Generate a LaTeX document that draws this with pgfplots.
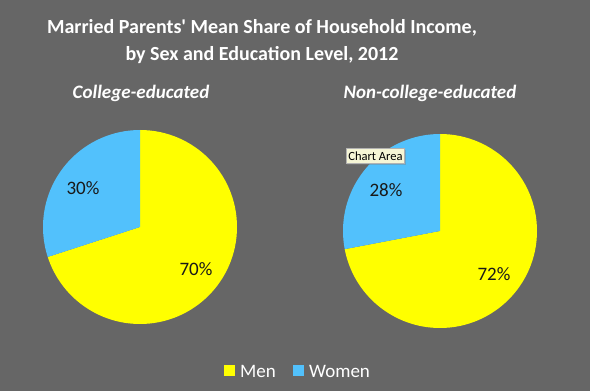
\documentclass[border=0pt]{standalone}
\usepackage{pgfplots}
\pgfplotsset{compat=1.18}
\usepackage{pgfplotstable}
\usepackage{fontspec}
\setmainfont{Carlito}
\usetikzlibrary{shadows}
\definecolor{bg}{RGB}{102,102,102}
\definecolor{menc}{RGB}{255,255,0}
\definecolor{womenc}{RGB}{82,193,252}
\definecolor{tip}{RGB}{246,246,214}
\definecolor{lbl}{RGB}{25,25,25}
\pgfplotstableread{
group men women
college 70 30
noncollege 72 28
}\shares
\begin{document}
\begin{tikzpicture}[x=1pt,y=1pt]
\fill[bg] (0,0) rectangle (590,391);
\pgfplotstablegetelem{0}{men}\of\shares \xdef\menA{\pgfplotsretval}
\pgfplotstablegetelem{0}{women}\of\shares \xdef\womA{\pgfplotsretval}
\pgfplotstablegetelem{1}{men}\of\shares \xdef\menB{\pgfplotsretval}
\pgfplotstablegetelem{1}{women}\of\shares \xdef\womB{\pgfplotsretval}
% title
\node[text=white,font=\fontsize{20}{27}\selectfont\bfseries,align=center] at (262,349)
  {Married Parents\textquotesingle{} Mean Share of Household Income,\\by Sex and Education Level, 2012};
\node[text=white,font=\fontsize{19}{23}\selectfont\bfseries\itshape] at (141,298) {College-educated};
\node[text=white,font=\fontsize{19}{23}\selectfont\bfseries\itshape] at (430,298) {Non-college-educated};
% left pie
\begin{axis}[at={(140,164)}, anchor=center, x=1pt, y=1pt,
  xmin=-100, xmax=100, ymin=-100, ymax=100, hide axis, clip=false]
\fill[menc] (axis cs:0,0) -- ++(90:97pt) arc[start angle=90, delta angle=-3.6*\menA, radius=97pt] -- cycle;
\fill[womenc] (axis cs:0,0) -- ++(90-3.6*\menA:97pt) arc[start angle=90-3.6*\menA, delta angle=-3.6*\womA, radius=97pt] -- cycle;
\node[text=lbl,font=\fontsize{19}{23}\selectfont] at (axis cs:-57,39) {\womA\%};
\node[text=lbl,font=\fontsize{19}{23}\selectfont] at (axis cs:56,-42) {\menA\%};
\end{axis}
% right pie
\begin{axis}[at={(440,160)}, anchor=center, x=1pt, y=1pt,
  xmin=-100, xmax=100, ymin=-100, ymax=100, hide axis, clip=false]
\fill[menc] (axis cs:0,0) -- ++(90:97pt) arc[start angle=90, delta angle=-3.6*\menB, radius=97pt] -- cycle;
\fill[womenc] (axis cs:0,0) -- ++(90-3.6*\menB:97pt) arc[start angle=90-3.6*\menB, delta angle=-3.6*\womB, radius=97pt] -- cycle;
\node[text=lbl,font=\fontsize{19}{23}\selectfont] at (axis cs:-54,41) {\womB\%};
\node[text=lbl,font=\fontsize{19}{23}\selectfont] at (axis cs:54,-43) {\menB\%};
\end{axis}
% legend
\fill[menc] (224,15) rectangle (235,26);
\node[text=white,anchor=west,font=\fontsize{19}{23}\selectfont,inner sep=0pt] at (240,20) {Men};
\fill[womenc] (293,15) rectangle (304,26);
\node[text=white,anchor=west,font=\fontsize{19}{23}\selectfont,inner sep=0pt] at (309,20) {Women};
% tooltip
\node[fill=tip,draw=black!30,line width=0.3pt,inner xsep=2pt,inner ysep=1pt,font=\fontsize{12.5}{14}\selectfont,
  drop shadow={opacity=0.4,shadow xshift=1pt,shadow yshift=-1.5pt},minimum height=15pt,minimum width=57pt] at (375.5,235) {Chart Area};
\end{tikzpicture}
\end{document}
